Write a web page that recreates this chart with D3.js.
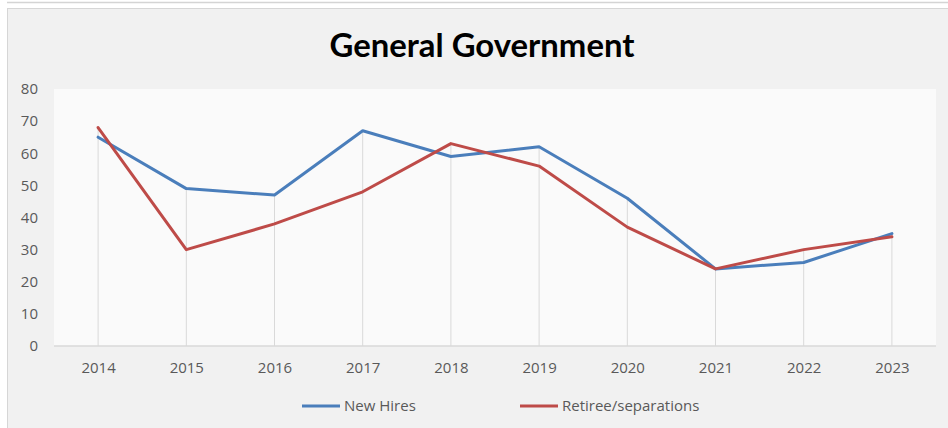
<!DOCTYPE html>
<html>
<head>
<meta charset="utf-8">
<script src="https://cdn.jsdelivr.net/npm/d3@7"></script>
<style>
  html, body { margin: 0; padding: 0; background: #ffffff; }
  svg { display: block; }
</style>
</head>
<body>
<svg id="chart" width="948" height="428"></svg>
<script>
// Yearly headcount movements, General Government
const years = ["2014", "2015", "2016", "2017", "2018", "2019", "2020", "2021", "2022", "2023"];
const newHires = [65, 49, 47, 67, 59, 62, 46, 24, 26, 35];
const retirees = [68, 30, 38, 48, 63, 56, 37, 24, 30, 34];
const yTicks = [0, 10, 20, 30, 40, 50, 60, 70, 80];
const seriesNames = ["New Hires", "Retiree/separations"];
const seriesColors = ["#4a7ebb", "#be4b48"];

const svg = d3.select("#chart");
const W = 948, H = 428;
const font = "'Open Sans', 'Liberation Sans', sans-serif";

// Outer frame: strip of the previous panel above, then this chart's panel
svg.append("rect").attr("x", 0).attr("y", 0).attr("width", W).attr("height", H).attr("fill", "#ffffff");
svg.append("line").attr("x1", 7).attr("x2", W).attr("y1", 2.5).attr("y2", 2.5)
  .attr("stroke", "#d4d4d4").attr("stroke-width", 1.5);
svg.append("rect").attr("x", 7.5).attr("y", 8.5).attr("width", W).attr("height", H)
  .attr("fill", "#f1f1f1").attr("stroke", "#d6d6d6").attr("stroke-width", 1);

const plot = { left: 54, right: 936, top: 89, bottom: 346 };

const x = d3.scalePoint().domain(years).range([plot.left, plot.right]).padding(0.5);
const y = d3.scaleLinear().domain([0, 80]).range([plot.bottom, plot.top]);

// Plot area fill
svg.append("rect").attr("x", plot.left).attr("y", plot.top)
  .attr("width", plot.right - plot.left).attr("height", plot.bottom - plot.top)
  .attr("fill", "#fafafa");

// Title
const title = svg.append("text").attr("x", 482).attr("y", 57)
  .attr("text-anchor", "middle")
  .attr("font-family", "Lato, 'Open Sans', sans-serif")
  .attr("font-weight", "bold").attr("font-size", 29).attr("fill", "#000")
  .text("General Government");
const tw = title.node().getComputedTextLength();
title.attr("font-size", 29 * 305 / tw);

// Drop lines from the higher of the two points down to the axis
const topVals = years.map((d, i) => Math.max(newHires[i], retirees[i]));
svg.append("g").selectAll("line").data(years).join("line")
  .attr("x1", d => x(d)).attr("x2", d => x(d))
  .attr("y1", (d, i) => y(topVals[i])).attr("y2", plot.bottom)
  .attr("stroke", "#d9d9d9").attr("stroke-width", 1);

// Baseline
svg.append("line").attr("x1", plot.left).attr("x2", plot.right)
  .attr("y1", plot.bottom).attr("y2", plot.bottom)
  .attr("stroke", "#d9d9d9").attr("stroke-width", 1.5);

// Y axis labels
const yAxis = d3.axisLeft(y).tickValues(yTicks).tickSize(0).tickPadding(0);
const gy = svg.append("g").attr("transform", "translate(38,0)").call(yAxis);
gy.select(".domain").remove();
gy.selectAll("text").attr("font-family", font).attr("font-size", 15).attr("fill", "#595959");

// X axis labels
const xAxis = d3.axisBottom(x).tickSize(0).tickPadding(0);
const gx = svg.append("g").attr("transform", "translate(0,362)").call(xAxis);
gx.select(".domain").remove();
gx.selectAll("text").attr("font-family", font).attr("font-size", 15).attr("fill", "#595959");

// Series lines
const line = d3.line().x((d, i) => x(years[i])).y(d => y(d));
[newHires, retirees].forEach((vals, k) => {
  svg.append("path").datum(vals).attr("d", line)
    .attr("fill", "none").attr("stroke", seriesColors[k])
    .attr("stroke-width", 3).attr("stroke-linejoin", "round").attr("stroke-linecap", "round");
});

// Legend
const legendX = [302, 520];
seriesNames.forEach((name, k) => {
  const g = svg.append("g").attr("transform", `translate(${legendX[k]},406)`);
  g.append("line").attr("x1", 0).attr("x2", 38).attr("y1", 0).attr("y2", 0)
    .attr("stroke", seriesColors[k]).attr("stroke-width", 3);
  g.append("text").attr("x", 42).attr("y", 5)
    .attr("font-family", font).attr("font-size", 15).attr("fill", "#595959")
    .text(name);
});
</script>
</body>
</html>
